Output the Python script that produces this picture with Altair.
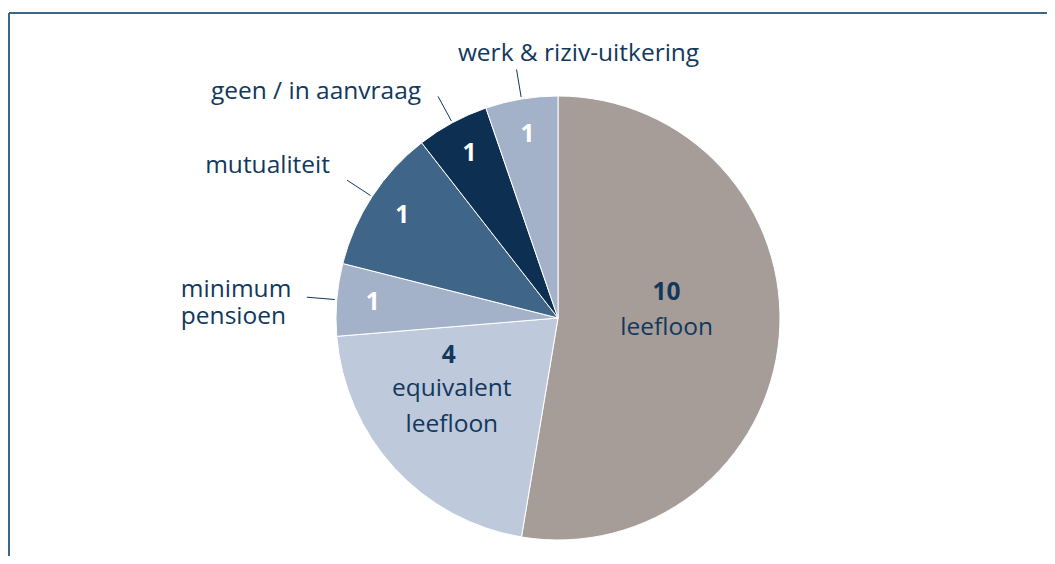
import altair as alt
import pandas as pd
import numpy as np

categories = ["leefloon", "equivalent leefloon", "minimum pensioen", "mutualiteit",
              "geen / in aanvraag", "werk & riziv-uitkering"]
values = [10, 4, 1, 2, 1, 1]
value_labels = ["10", "4", "1", "1", "1", "1"]
colors = ["#a69d98", "#bfc9dc", "#a3b1c9", "#3f6589", "#0c2f52", "#a3b1c9"]

W, H = 1039, 548
CX, CY, R = 550, 310, 222
TXT = "#12385c"
FONT = "Open Sans"
FS = 24.5

total = sum(values)
cum = np.cumsum(values)
mid = cum - np.array(values) / 2.0
df = pd.DataFrame({
    "cat": categories,
    "value": values,
    "num": value_labels,
    "idx": list(range(len(categories))),
    "mid": mid,
})
ang = df["mid"] / total * 2 * np.pi
df["lx1"] = CX + 224 * np.sin(ang)
df["ly1"] = CY - 224 * np.cos(ang)
df["lx2"] = CX + 252 * np.sin(ang)
df["ly2"] = CY - 252 * np.cos(ang)

base = alt.Chart(df)
theta_scale = alt.Scale(domain=[0, total], range=[0, 2 * np.pi])

pie = base.mark_arc(radius=R, stroke="white", strokeWidth=1).encode(
    theta=alt.Theta("value:Q", stack=True, scale=theta_scale),
    order=alt.Order("idx:Q"),
    color=alt.Color("cat:N", scale=alt.Scale(domain=categories, range=colors), legend=None),
    x=alt.value(CX), y=alt.value(CY),
)

def polar_text(cat, text, radius, dx=0, dy=0, bold=False, color=TXT, align="center", field=None):
    kw = dict(radius=radius, dx=dx, dy=dy, font=FONT, fontSize=FS,
              fontWeight="bold" if bold else "normal", color=color, align=align, baseline="middle")
    enc = dict(theta=alt.Theta("mid:Q", scale=theta_scale, stack=None),
               x=alt.value(CX), y=alt.value(CY))
    if field:
        enc["text"] = alt.Text(field + ":N")
    else:
        enc["text"] = alt.value(text)
    return base.transform_filter(alt.datum.cat == cat).mark_text(**kw).encode(**enc)

small = [c for c in categories if c not in ("leefloon", "equivalent leefloon")]
small_nums = base.transform_filter(
    alt.FieldOneOfPredicate(field="cat", oneOf=small)
).mark_text(radius=186, font=FONT, fontSize=FS, fontWeight="bold", color="white",
            align="center", baseline="middle").encode(
    theta=alt.Theta("mid:Q", scale=theta_scale, stack=None),
    text=alt.Text("num:N"),
    x=alt.value(CX), y=alt.value(CY),
)

layers = [
    pie,
    small_nums,
    polar_text("leefloon", None, 109, dy=-34, bold=True, field="num"),
    polar_text("leefloon", "leefloon", 109, dy=1),
    polar_text("equivalent leefloon", None, 128, dx=-15, dy=-49, bold=True, field="num"),
    polar_text("equivalent leefloon", "equivalent", 128, dx=-12, dy=-16),
    polar_text("equivalent leefloon", "leefloon", 128, dx=-12, dy=20),
    polar_text("werk & riziv-uitkering", "werk & riziv-uitkering", 252, dx=62, dy=-15),
    polar_text("geen / in aanvraag", "geen / in aanvraag", 252, align="right", dx=-17, dy=-4),
    polar_text("mutualiteit", "mutualiteit", 252, align="right", dx=-17, dy=-14),
    polar_text("minimum pensioen", "minimum", 252, align="left", dx=-126, dy=-7),
    polar_text("minimum pensioen", "pensioen", 252, align="left", dx=-126, dy=20),
]

leaders = base.mark_rule(color=TXT, strokeWidth=1).encode(
    x=alt.X("lx1:Q", scale=None), y=alt.Y("ly1:Q", scale=None),
    x2="lx2:Q", y2="ly2:Q",
).transform_filter(alt.FieldOneOfPredicate(field="cat", oneOf=small))

frame_top = base.mark_rule(color="#3f6589", strokeWidth=2).encode(
    x=alt.value(1), x2=alt.value(W + 10), y=alt.value(5))
frame_left = base.mark_rule(color="#3f6589", strokeWidth=2).encode(
    x=alt.value(1), y=alt.value(5), y2=alt.value(H + 10))

chart = alt.layer(frame_top, frame_left, leaders, *layers).properties(
    width=W, height=H, padding=0, autosize=alt.AutoSizeParams(type="none")
).configure_view(stroke=None)

chart.save("out.html", embed_options={"renderer": "svg", "actions": False})
